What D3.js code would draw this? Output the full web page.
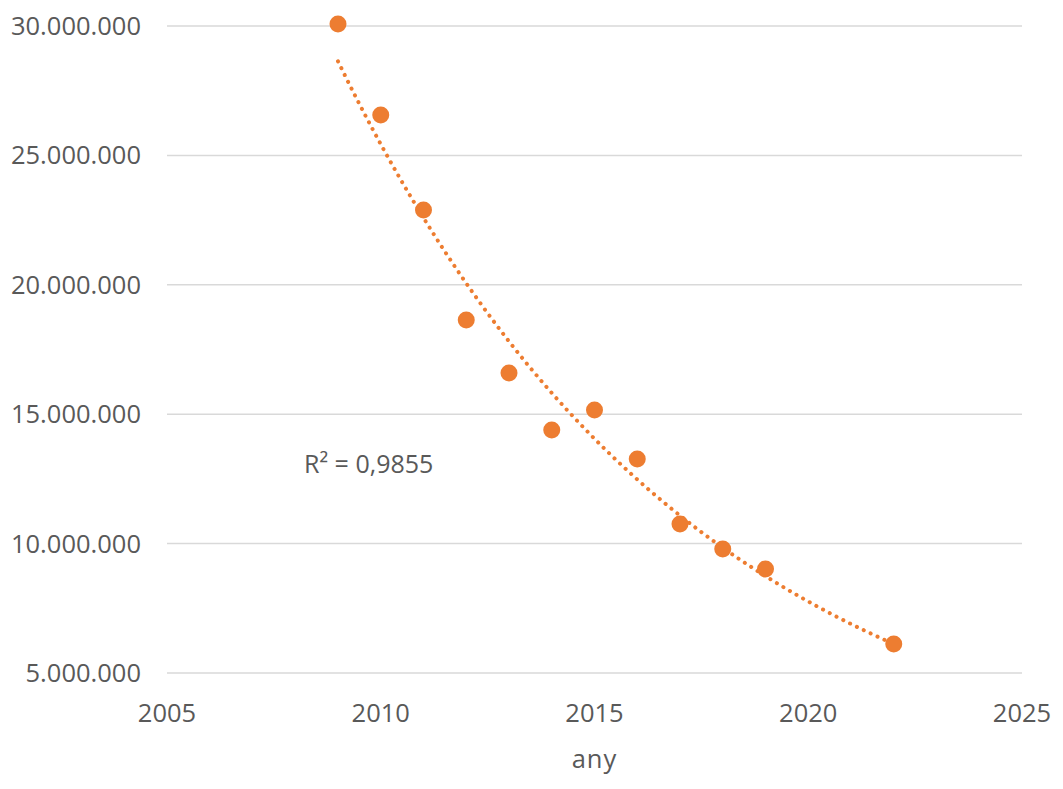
<!DOCTYPE html>
<html>
<head>
<meta charset="UTF-8" />
<script src="https://d3js.org/d3.v7.min.js"></script>
<style>
  body { margin: 0; background: #fff; }
  text { font-family: "Open Sans", "Noto Sans", sans-serif; fill: #595959; }
</style>
</head>
<body>
<div id="chart"></div>
<script>
// values
const years = [2009, 2010, 2011, 2012, 2013, 2014, 2015, 2016, 2017, 2018, 2019, 2022];
const values = [30080000, 26560000, 22890000, 18640000, 16590000, 14390000, 15160000, 13270000, 10760000, 9790000, 9020000, 6120000];
const xTicks = [2005, 2010, 2015, 2020, 2025];
const yTicks = [5000000, 10000000, 15000000, 20000000, 25000000, 30000000];
const r2Label = "R² = 0,9855";
const xTitle = "any";

const W = 1063, H = 789;
const svg = d3.select("#chart").append("svg").attr("width", W).attr("height", H);

const x = d3.scaleLinear().domain([2005, 2025]).range([167, 1022]);
const y = d3.scaleLinear().domain([5000000, 30000000]).range([673, 26]);

const fmt = d => d3.format(",")(d).replace(/,/g, ".");

// gridlines
svg.append("g").selectAll("line").data(yTicks).join("line")
  .attr("x1", x(2005)).attr("x2", x(2025))
  .attr("y1", d => y(d)).attr("y2", d => y(d))
  .attr("stroke", "#d9d9d9").attr("stroke-width", 1.5);

// y labels
svg.append("g").selectAll("text").data(yTicks).join("text")
  .attr("x", 141).attr("y", d => y(d)).attr("dy", "0.35em")
  .attr("text-anchor", "end").attr("font-size", 25.5)
  .text(fmt);

// x labels
svg.append("g").selectAll("text").data(xTicks).join("text")
  .attr("x", d => x(d)).attr("y", 722)
  .attr("text-anchor", "middle").attr("font-size", 25.5)
  .text(d => d);

svg.append("text").attr("x", x(2015)).attr("y", 768)
  .attr("text-anchor", "middle").attr("font-size", 25.5).attr("letter-spacing", 1)
  .text(xTitle);

// exponential trendline (least squares on ln(value))
const lx = years, ly = values.map(Math.log);
const mx = d3.mean(lx), my = d3.mean(ly);
const b = d3.sum(lx, (v, i) => (v - mx) * (ly[i] - my)) / d3.sum(lx, v => (v - mx) ** 2);
const a = my - b * mx;
const trend = d3.range(2009, 2022.001, 0.1).map(t => [t, Math.exp(a + b * t)]);

svg.append("path").datum(trend)
  .attr("d", d3.line().x(d => x(d[0])).y(d => y(d[1])))
  .attr("fill", "none").attr("stroke", "#ED7D31")
  .attr("stroke-width", 4).attr("stroke-linecap", "round")
  .attr("stroke-dasharray", "0.1 7.5");

// points
svg.append("g").selectAll("circle").data(years).join("circle")
  .attr("cx", d => x(d)).attr("cy", (d, i) => y(values[i]))
  .attr("r", 8.5).attr("fill", "#ED7D31");

svg.append("text").attr("x", 304).attr("y", 473)
  .attr("font-size", 25).text(r2Label);
</script>
</body>
</html>
